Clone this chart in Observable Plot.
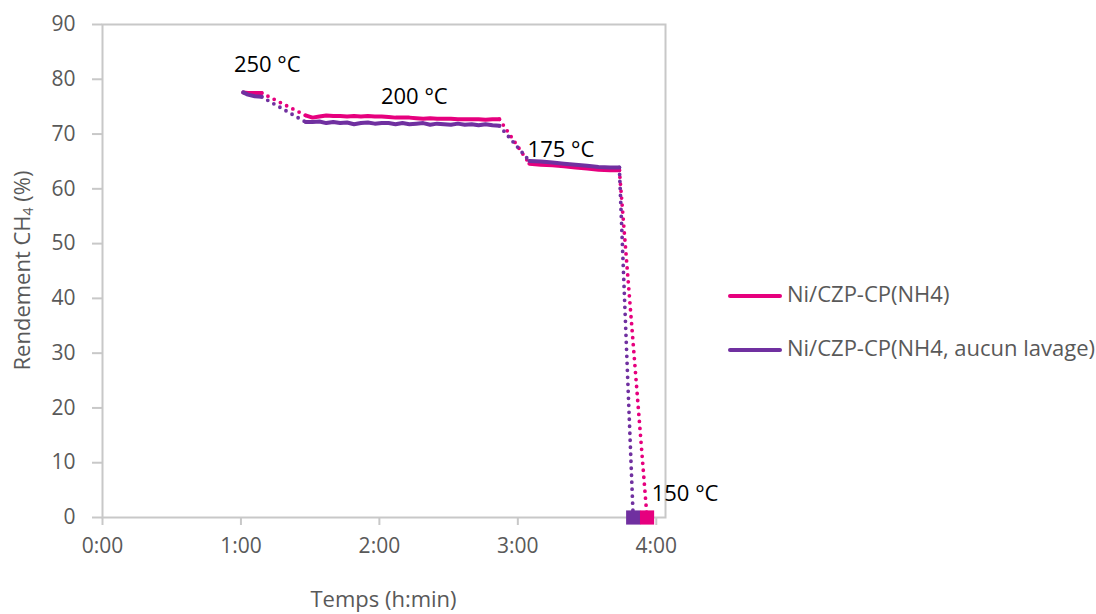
<!DOCTYPE html>
<html>
<head>
<meta charset="utf-8">
<script src="https://cdn.jsdelivr.net/npm/d3@7"></script>
<script src="https://cdn.jsdelivr.net/npm/@observablehq/plot@0.6"></script>
<style>
  html, body { margin: 0; padding: 0; background: #fff; }
  #chart { position: relative; width: 1096px; height: 614px; }
</style>
</head>
<body>
<div id="chart"></div>
<script>
// ---- Data (time in minutes, yield in %) ----
const seriesNames = ["Ni/CZP-CP(NH4)", "Ni/CZP-CP(NH4, aucun lavage)"];
const seriesColors = ["#E6007E", "#7030A0"];

const timesA = [61, 63, 66, 69];
const pinkA = [77.6, 77.5, 77.5, 77.5];
const purpleA = [77.6, 77.2, 76.9, 76.8];

const timesB = [88, 91, 94, 97, 100, 103, 106, 109, 112, 115, 118, 121, 124, 127, 130, 133, 136, 139, 142, 145, 148, 151, 154, 157, 160, 163, 166, 169, 172];
const pinkB = [73.4, 73.0, 73.2, 73.4, 73.3, 73.3, 73.2, 73.3, 73.2, 73.3, 73.2, 73.2, 73.1, 73.0, 73.0, 73.0, 72.9, 72.8, 72.9, 72.8, 72.8, 72.8, 72.7, 72.7, 72.7, 72.7, 72.6, 72.7, 72.7];
const purpleB = [72.2, 72.2, 72.3, 72.0, 72.2, 72.0, 72.1, 71.8, 72.0, 72.1, 71.9, 72.0, 72.0, 71.8, 72.0, 71.8, 71.9, 72.0, 71.7, 71.9, 71.8, 71.7, 71.9, 71.7, 71.8, 71.6, 71.8, 71.6, 71.5];

const timesC = [185, 190, 195, 200, 205, 210, 215, 220, 224];
const pinkC = [64.6, 64.4, 64.3, 64.1, 63.9, 63.7, 63.5, 63.4, 63.4];
const purpleC = [65.1, 65.0, 64.8, 64.6, 64.4, 64.2, 64.0, 63.9, 63.9];

// final measurement at 150 °C
const finalTimes = [236, 230];
const finalValues = [0, 0];

const xTicks = [0, 60, 120, 180, 240];
const yTicks = [0, 10, 20, 30, 40, 50, 60, 70, 80, 90];

const tempLabels = ["250 °C", "200 °C", "175 °C", "150 °C"];

// ---- Build tables ----
const segments = [
  [timesA, [pinkA, purpleA]],
  [timesB, [pinkB, purpleB]],
  [timesC, [pinkC, purpleC]]
];
const solid = [];
const dotted = [];
seriesNames.forEach((name, si) => {
  const segRows = segments.map(([ts, vals], gi) =>
    ts.map((t, i) => ({t, v: vals[si][i], series: name, key: name + "-s" + gi})));
  segRows.forEach(r => solid.push(...r));
  const finalPt = {t: finalTimes[si], v: finalValues[si]};
  for (let gi = 0; gi < segRows.length; gi++) {
    const a = segRows[gi][segRows[gi].length - 1];
    const b = gi + 1 < segRows.length ? segRows[gi + 1][0] : finalPt;
    dotted.push({t: a.t, v: a.v, series: name, key: name + "-d" + gi});
    dotted.push({t: b.t, v: b.v, series: name, key: name + "-d" + gi});
  }
});
const finals = seriesNames.map((name, si) => ({t: finalTimes[si], v: finalValues[si], series: name})).reverse();

const pinkAt = (times, vals, t) => ({t, v: vals[times.indexOf(t)]});
const lab250 = [{...pinkAt(timesA, pinkA, 61), text: tempLabels[0]}];
const lab200 = [{...pinkAt(timesB, pinkB, 136), text: tempLabels[1]}];
const lab175 = [{...pinkAt(timesC, pinkC, 200), text: tempLabels[2]}];
const lab150 = [{t: finalTimes[0], v: finalValues[0], text: tempLabels[3]}];

const fmt = m => `${Math.floor(m / 60)}:${String(m % 60).padStart(2, "0")}`;
const FONT = "Open Sans";
const gray = "#c8c8c8";
const txt = "#595959";
const FS = 22;

const textOpts = {x: "t", y: "v", text: "text", fontSize: FS, fill: "#000"};

const plot = Plot.plot({
  width: 1096,
  height: 614,
  marginLeft: 102,
  marginRight: 431,
  marginTop: 24,
  marginBottom: 97,
  style: {fontFamily: FONT, fontSize: FS + "px", background: "#fff"},
  x: {domain: [0, 244]},
  y: {domain: [0, 90]},
  color: {domain: seriesNames, range: seriesColors},
  marks: [
    Plot.frame({stroke: gray, strokeWidth: 2}),
    Plot.axisY({ticks: yTicks, tickSize: 10, tickPadding: 17, stroke: gray, strokeWidth: 2, fill: txt, fontSize: 21, label: null}),
    Plot.axisX({ticks: xTicks, tickFormat: fmt, tickSize: 8, tickPadding: 13, stroke: gray, strokeWidth: 2, fill: txt, fontSize: 21, label: null}),
    Plot.line(dotted, {x: "t", y: "v", z: "key", stroke: "series", strokeWidth: 3.8, strokeDasharray: "0,7", strokeLinecap: "round"}),
    Plot.line(solid, {x: "t", y: "v", z: "key", stroke: "series", strokeWidth: 4, strokeLinejoin: "round"}),
    Plot.dot(finals, {x: "t", y: "v", fill: "series", symbol: "square", r: 8}),
    Plot.text(lab250, {...textOpts, dx: 24, dy: -27}),
    Plot.text(lab200, {...textOpts, dx: -2, dy: -21}),
    Plot.text(lab175, {...textOpts, dx: -3, dy: -16}),
    Plot.text(lab150, {...textOpts, dx: 38, dy: -24})
  ]
});
document.getElementById("chart").appendChild(plot);

// Axis titles and legend
const svg = d3.select(plot);
svg.append("text")
  .attr("x", 383.5).attr("y", 601)
  .attr("text-anchor", "middle").attr("dominant-baseline", "middle")
  .attr("font-family", FONT).attr("font-size", FS).attr("fill", txt)
  .text("Temps (h:min)");
const yt = svg.append("text")
  .attr("transform", "translate(24,270.5) rotate(-90)")
  .attr("text-anchor", "middle").attr("dominant-baseline", "middle")
  .attr("font-family", FONT).attr("font-size", FS).attr("fill", txt);
yt.append("tspan").text("Rendement CH");
yt.append("tspan").attr("font-size", 14).attr("dy", 5).text("4");
yt.append("tspan").attr("dy", -5).text(" (%)");

const legendY = [296, 350];
seriesNames.forEach((name, i) => {
  svg.append("line")
    .attr("x1", 730).attr("x2", 780).attr("y1", legendY[i]).attr("y2", legendY[i])
    .attr("stroke", seriesColors[i]).attr("stroke-width", 4).attr("stroke-linecap", "round");
  svg.append("text")
    .attr("x", 787).attr("y", legendY[i])
    .attr("text-anchor", "start")
    .attr("dominant-baseline", "middle")
    .attr("font-family", FONT).attr("font-size", FS).attr("fill", txt)
    .text(name);
});
</script>
</body>
</html>
